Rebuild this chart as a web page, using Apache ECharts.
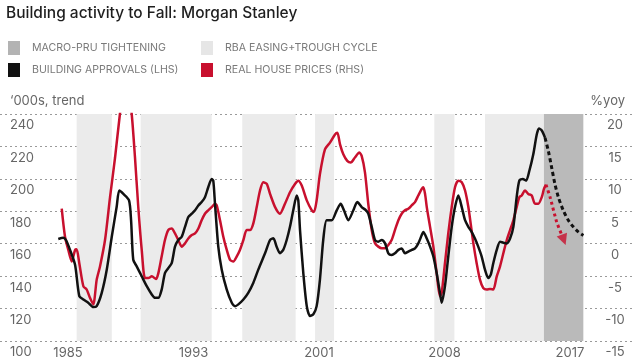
<!DOCTYPE html>
<html>
<head>
<meta charset="utf-8">
<script src="https://cdn.jsdelivr.net/npm/echarts@6/dist/echarts.min.js"></script>
<style>
html,body{margin:0;padding:0;background:#fff;}
#chart{width:640px;height:360px;}
</style>
</head>
<body>
<div id="chart"></div>
<script>
// ---- Data ----
const xTickYears = [1985, 1993, 2001, 2009, 2017];
const xTickLabels = ['1985', '1993', '2001', '2008', '2017'];

// Building approvals ('000s, trend) - LHS
const approvalsYears = [1984.38,1984.70,1984.87,1985.13,1985.45,1985.72,1985.98,1986.29,1986.61,1986.83,1987.15,1987.47,1987.79,1988.10,1988.27,1988.53,1988.89,1989.02,1989.16,1989.38,1989.70,1990.02,1990.34,1990.55,1990.76,1990.97,1991.18,1991.39,1991.61,1991.82,1992.03,1992.25,1992.46,1992.67,1992.89,1993.10,1993.31,1993.52,1993.73,1993.94,1994.16,1994.26,1994.37,1994.58,1994.80,1995.12,1995.44,1995.65,1995.86,1996.18,1996.49,1996.81,1997.13,1997.56,1997.88,1998.09,1998.30,1998.51,1998.72,1998.94,1999.15,1999.36,1999.58,1999.68,1999.79,2000.00,2000.22,2000.43,2000.64,2000.85,2001.06,2001.27,2001.49,2001.81,2002.13,2002.38,2002.59,2002.87,2003.19,2003.44,2003.72,2004.00,2004.14,2004.36,2004.57,2004.78,2005.00,2005.21,2005.42,2005.63,2005.84,2006.06,2006.27,2006.48,2006.69,2006.91,2007.12,2007.33,2007.55,2007.65,2007.87,2008.08,2008.29,2008.50,2008.71,2008.82,2009.03,2009.24,2009.46,2009.67,2009.88,2010.10,2010.31,2010.52,2010.73,2010.94,2011.15,2011.37,2011.58,2011.79,2011.95,2012.11,2012.33,2012.54,2012.75,2012.97,2013.18,2013.39,2013.60,2013.77,2013.99,2014.20,2014.41,2014.66,2014.88,2015.02,2015.20,2015.41];
const approvalsValues = [162.9,163.7,162.3,156.2,147.0,127.7,125.6,123.6,120.9,121.5,129.7,143.9,164.3,182.6,192.8,190.7,186.7,174.5,150.1,146.0,139.9,133.8,128.7,126.6,126.6,131.7,141.9,144.9,148.0,158.2,162.3,164.3,170.4,176.5,178.5,180.6,183.6,185.7,188.7,194.8,199.9,198.9,184.6,158.2,144.0,131.7,123.6,121.5,122.6,125.6,129.7,135.8,144.0,154.1,162.3,163.3,158.2,154.1,156.2,162.3,170.4,180.6,189.7,186.7,168.4,141.9,121.5,115.4,116.5,121.5,137.9,162.3,174.5,174.5,180.6,184.6,180.6,174.5,180.6,185.7,182.6,180.6,178.5,170.4,162.3,161.2,162.3,160.2,154.1,153.1,154.1,156.2,157.1,154.1,155.1,156.2,157.1,160.2,165.3,167.3,163.2,158.2,152.1,141.9,129.7,123.6,133.8,152.1,170.4,182.6,189.7,182.6,174.5,170.4,167.3,163.2,158.2,152.1,144.0,138.8,140.9,148.0,156.2,161.2,160.6,160.2,163.2,170.4,188.7,198.9,199.9,198.9,205.0,215.1,227.3,231.0,229.8,225.3];
const approvalsProjYears = [2015.41,2015.62,2015.83,2016.04,2016.26,2016.57,2016.89,2017.21,2017.53,2017.85];
const approvalsProjValues = [225.3,217.2,207.0,196.8,188.7,180.6,174.5,170.4,167.3,165.1];

// Real house prices (%yoy) - RHS
const pricesYears = [1984.60,1984.81,1985.02,1985.24,1985.45,1985.55,1985.72,1985.98,1986.19,1986.40,1986.61,1986.83,1987.04,1987.36,1987.68,1988.00,1988.31,1988.70,1989.06,1989.27,1989.48,1989.70,1989.91,1990.12,1990.34,1990.61,1990.76,1990.97,1991.18,1991.39,1991.61,1991.82,1992.03,1992.25,1992.46,1992.67,1992.89,1993.10,1993.31,1993.52,1993.73,1993.94,1994.16,1994.37,1994.48,1994.69,1994.90,1995.12,1995.33,1995.54,1995.75,1995.96,1996.18,1996.39,1996.60,1996.81,1997.03,1997.24,1997.45,1997.67,1997.88,1998.20,1998.51,1998.83,1999.15,1999.47,1999.68,1999.90,2000.22,2000.54,2000.68,2000.85,2001.06,2001.38,2001.70,2002.02,2002.17,2002.34,2002.55,2002.80,2003.02,2003.29,2003.57,2003.72,2003.93,2004.14,2004.36,2004.57,2004.78,2005.00,2005.21,2005.42,2005.63,2005.84,2006.06,2006.27,2006.48,2006.69,2006.91,2007.12,2007.33,2007.55,2007.65,2007.76,2007.87,2008.08,2008.29,2008.50,2008.71,2008.82,2009.03,2009.24,2009.46,2009.67,2009.88,2010.10,2010.31,2010.52,2010.73,2010.84,2011.05,2011.26,2011.47,2011.69,2011.90,2012.11,2012.33,2012.54,2012.75,2012.97,2013.18,2013.39,2013.60,2013.77,2013.92,2014.13,2014.34,2014.56,2014.77,2014.98,2015.20,2015.34,2015.47];
const pricesValues = [5.4,1.07,-0.96,-2.74,-0.96,-0.87,-3.0,-6.56,-7.06,-8.34,-9.35,-5.54,-3.5,0.57,7.18,13.29,20.0,27.0,20.0,13.3,5.65,-0.96,-5.3,-5.3,-5.03,-5.45,-4.53,-1.98,0.57,2.10,2.34,1.58,0.57,-0.45,0.05,0.81,1.33,1.58,2.34,3.62,4.63,5.15,5.65,6.16,5.9,3.62,1.07,-0.96,-2.48,-2.74,-1.98,-0.96,0.57,2.10,2.10,3.10,5.65,8.2,9.47,9.22,7.68,5.65,4.63,6.16,7.94,9.22,9.72,8.96,6.68,5.15,4.89,6.68,10.74,14.55,15.58,16.84,17.1,15.32,13.79,12.78,12.52,13.29,14.05,13.55,11.0,6.16,2.10,0.05,-0.45,-0.71,-0.71,-0.19,0.57,2.10,3.62,4.63,5.15,5.39,5.91,6.42,7.44,8.45,8.71,7.68,5.65,2.6,-0.45,-4.53,-8.09,-7.58,-3.0,1.58,5.65,8.71,9.72,9.47,8.2,5.65,2.0,0.05,-3.0,-5.54,-6.82,-7.06,-6.97,-7.06,-5.03,-3.5,-1.47,0.57,2.10,3.62,5.65,7.18,7.44,8.2,7.68,7.44,6.16,6.16,7.18,8.45,9.1];
const pricesProjYears = [2015.47,2015.73,2016.15,2016.50];
const pricesProjValues = [9.1,7.18,3.36,1.2];
const pricesArrowTip = [2016.60, 0.6];

// Shaded periods (years)
const rbaEasingBands = [[1985.55,1987.79],[1989.63,1994.16],[1996.11,1999.51],[2000.75,2001.96],[2008.35,2009.63],[2011.58,2015.34]];
const macroPruBands = [[2015.34,2017.85]];

const leftTicks = { min: 100, max: 240, interval: 20 };
const rightTicks = { min: -15, max: 20, interval: 5 };

// ---- Chart ----
const FONT = 'Inter, "Open Sans", sans-serif';
const pairs = (xs, ys) => xs.map((x, i) => [x, ys[i]]);
const bands = (list) => list.map(b => [{ xAxis: b[0] }, { xAxis: b[1] }]);

const chart = echarts.init(document.getElementById('chart'), null, { renderer: 'canvas' });
chart.setOption({
  animation: false,
  backgroundColor: '#ffffff',
  textStyle: { fontFamily: FONT },
  title: {
    text: 'Building activity to Fall: Morgan Stanley',
    left: 6, top: 5, padding: 0,
    textStyle: { fontFamily: FONT, fontSize: 15.5, fontWeight: 500, color: '#1e1e1e' }
  },
  legend: [
    {
      data: ['MACRO-PRU TIGHTENING', 'BUILDING APPROVALS (LHS)'],
      left: 8, top: 41, orient: 'vertical', padding: 0,
      icon: 'rect', itemWidth: 12, itemHeight: 14, itemGap: 8,
      selectedMode: false,
      textStyle: { fontFamily: FONT, fontSize: 10.6, color: '#7a7a7a', padding: [0, 0, 0, 7] }
    },
    {
      data: ['RBA EASING+TROUGH CYCLE', 'REAL HOUSE PRICES (RHS)'],
      left: 201, top: 41, orient: 'vertical', padding: 0,
      icon: 'rect', itemWidth: 12, itemHeight: 14, itemGap: 8,
      selectedMode: false,
      textStyle: { fontFamily: FONT, fontSize: 10.6, color: '#7a7a7a', padding: [0, 0, 0, 7] }
    }
  ],
  grid: { left: 0, right: 5, top: 114, bottom: 17, containLabel: false },
  xAxis: {
    type: 'value',
    min: 1985 - 68 / 15.6875,
    max: 1985 + 567 / 15.6875,
    axisLine: { show: false },
    axisTick: { show: false },
    splitLine: { show: false },
    axisLabel: {
      customValues: xTickYears,
      formatter: (v) => { const i = xTickYears.indexOf(Math.round(v)); return i >= 0 ? xTickLabels[i] : ''; },
      margin: 6, fontSize: 13, color: '#666', fontFamily: FONT
    }
  },
  yAxis: [
    {
      type: 'value', position: 'left',
      min: leftTicks.min, max: leftTicks.max, interval: leftTicks.interval,
      name: '\u2018000s, trend', nameLocation: 'end', nameGap: 6,
      nameTextStyle: { align: 'left', fontSize: 13, color: '#666', fontFamily: FONT, padding: [0, 0, 0, 10] },
      axisLine: { show: false }, axisTick: { show: false },
      axisLabel: { inside: true, margin: 10, align: 'left', verticalAlign: 'top', padding: [5, 0, 0, 0], fontSize: 13, color: '#666', fontFamily: FONT },
      splitLine: { show: true, lineStyle: { type: [2, 3], color: '#9a9a9a', width: 1 } }
    },
    {
      type: 'value', position: 'right',
      min: rightTicks.min, max: rightTicks.max, interval: rightTicks.interval,
      name: '%yoy', nameLocation: 'end', nameGap: 6,
      nameTextStyle: { align: 'right', fontSize: 13, color: '#666', fontFamily: FONT, padding: [0, 10, 0, 0] },
      axisLine: { show: false }, axisTick: { show: false },
      axisLabel: { inside: true, margin: 20, align: 'center', verticalAlign: 'top', padding: [5, 0, 0, 0], fontSize: 13, color: '#666', fontFamily: FONT },
      splitLine: { show: false }
    }
  ],
  series: [
    {
      name: 'RBA EASING+TROUGH CYCLE', type: 'line', data: [], z: -1,
      itemStyle: { color: '#e6e6e6' }, lineStyle: { width: 0 },
      markArea: { silent: true, itemStyle: { color: '#ebebeb' }, data: bands(rbaEasingBands) }
    },
    {
      name: 'MACRO-PRU TIGHTENING', type: 'line', data: [], z: -1,
      itemStyle: { color: '#b3b3b3' }, lineStyle: { width: 0 },
      markArea: { silent: true, itemStyle: { color: '#bababa' }, data: bands(macroPruBands) }
    },
    {
      name: 'REAL HOUSE PRICES (RHS)', type: 'line', yAxisIndex: 1,
      data: pairs(pricesYears, pricesValues), smooth: 0.25, symbol: 'none',
      itemStyle: { color: '#c8102e' }, lineStyle: { color: '#c8102e', width: 2.5 }, z: 3
    },
    {
      name: 'REAL HOUSE PRICES (RHS)', type: 'line', yAxisIndex: 1,
      data: pairs(pricesProjYears, pricesProjValues), smooth: 0.2, symbol: 'none',
      itemStyle: { color: '#c8102e' }, lineStyle: { color: '#c8102e', width: 3, type: [3, 3] }, z: 3
    },
    {
      name: 'REAL HOUSE PRICES (RHS)', type: 'scatter', yAxisIndex: 1,
      data: [pricesArrowTip], symbol: 'triangle', symbolSize: [11, 11], symbolRotate: 200,
      itemStyle: { color: '#c8102e' }, z: 3
    },
    {
      name: 'BUILDING APPROVALS (LHS)', type: 'line', yAxisIndex: 0,
      data: pairs(approvalsYears, approvalsValues), smooth: 0.25, symbol: 'none',
      itemStyle: { color: '#111111' }, lineStyle: { color: '#111111', width: 2.5 }, z: 4
    },
    {
      name: 'BUILDING APPROVALS (LHS)', type: 'line', yAxisIndex: 0,
      data: pairs(approvalsProjYears, approvalsProjValues), smooth: 0.3, symbol: 'none',
      itemStyle: { color: '#111111' }, lineStyle: { color: '#111111', width: 3, type: [4, 3] }, z: 4
    }
  ]
});
</script>
</body>
</html>
